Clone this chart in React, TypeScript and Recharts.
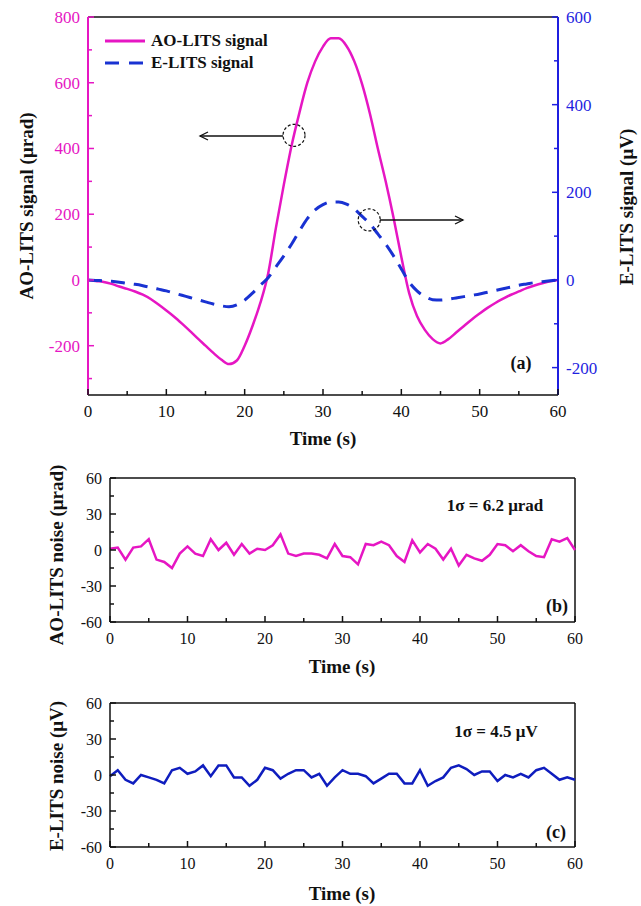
import React from "react";
import { LineChart, Line, XAxis, YAxis, ReferenceLine, ReferenceDot, Legend } from "recharts";

const FONT = '"Liberation Serif", "Times New Roman", serif';
const MAGENTA = "#E616C3";
const DASH_BLUE = "#1932D2";
const AXIS_BLUE = "#1F1FE0";
const NOISE_BLUE = "#0F1DBE";
const INK = "#111";

// time axis (s)
const time = [
  0, 1, 2, 3, 4, 5, 6, 7, 8, 9, 10, 11, 12, 13, 14, 15, 16, 17, 18, 19, 20,
  21, 22, 23, 24, 25, 26, 27, 28, 29, 30, 31, 32, 33, 34, 35, 36, 37, 38, 39, 40,
  41, 42, 43, 44, 45, 46, 47, 48, 49, 50, 51, 52, 53, 54, 55, 56, 57, 58, 59, 60,
];

// (a) AO-LITS signal, µrad
const aoSignal = [
  0, -3, -6, -12, -20, -27, -35, -45, -58, -75, -93, -112, -133, -155, -178, -200,
  -222, -242, -256, -245, -200, -140, -70, 20, 160, 290, 410, 510, 600, 665, 710,
  735, 735, 712, 665, 595, 505, 400, 300, 190, 70, -40, -110, -152, -180, -193,
  -180, -160, -140, -120, -102, -85, -70, -57, -45, -35, -25, -17, -10, -4, 0,
];

// (a) E-LITS signal, µV
const eSignal = [
  0, -1, -2, -3, -5, -8, -10, -13, -17, -21, -25, -30, -35, -40, -45, -50, -55,
  -59, -61, -57, -46, -30, -12, 5, 30, 55, 82, 112, 140, 160, 172, 178, 178, 173,
  162, 145, 128, 105, 82, 55, 25, -5, -25, -38, -45, -46, -44, -41, -38, -35, -32,
  -28, -24, -20, -16, -12, -9, -6, -4, -2, 0,
];

// (b) AO-LITS noise, µrad
const aoNoise = [
  1, 2, -8, 2, 3, 9, -8, -10, -15, -3, 3, -3, -5, 9, 0, 6, -4, 5, -3, 1, 0, 4,
  13, -3, -5, -3, -3, -4, -7, 5, -5, -6, -12, 5, 4, 7, 4, -5, -10, 8, -2, 5, 1,
  -8, 1, -13, -4, -7, -9, -4, 5, 4, -1, 4, -1, -5, -6, 9, 7, 10, 0,
];

// (c) E-LITS noise, µV
const eNoise = [
  -1, 4, -4, -7, 0, -2, -4, -7, 4, 6, 1, 3, 8, -1, 8, 8, -2, -2, -9, -4, 6, 4, -3,
  1, 4, 4, -2, 1, -9, -2, 4, 1, 1, -1, -7, -3, 1, 1, -7, -7, 4, -9, -5, -2, 6, 8,
  5, 0, 3, 3, -5, 0, -2, 1, -2, 4, 6, 1, -4, -2, -4,
];

const timeTicks = [0, 5, 10, 15, 20, 25, 30, 35, 40, 45, 50, 55, 60];
const aoTicks = [-300, -200, -100, 0, 100, 200, 300, 400, 500, 600, 700, 800];
const eTicks = [-200, -100, 0, 100, 200, 300, 400, 500, 600];
const noiseTicks = [-60, -45, -30, -15, 0, 15, 30, 45, 60];

const signalData = time.map((t, i) => ({ t, ao: aoSignal[i], e: eSignal[i] }));
const aoNoiseData = time.map((t, i) => ({ t, v: aoNoise[i] }));
const eNoiseData = time.map((t, i) => ({ t, v: eNoise[i] }));

const legendRows = [
  { key: "ao", name: "AO-LITS signal", color: MAGENTA, dash: undefined },
  { key: "e", name: "E-LITS signal", color: DASH_BLUE, dash: "14 10" },
];

// ticks point into the plot; tickSize is 0 so x/y arrive tickMargin away from the axis
const SideTick = ({ x, y, payload, color, every, side, margin, fontSize }: any) => {
  const major = payload.value % every === 0;
  const dir = side === "left" ? 1 : -1;
  const ax = x + dir * margin;
  return (
    <g>
      <line x1={ax} x2={ax + dir * (major ? 6 : 4)} y1={y} y2={y} stroke={color} strokeWidth={1.5} />
      {major && (
        <text x={x} y={y} dy="0.35em" textAnchor={side === "left" ? "end" : "start"}
          fill={color} fontFamily={FONT} fontSize={fontSize}>
          {payload.value}
        </text>
      )}
    </g>
  );
};

const BottomTick = ({ x, y, payload, margin, fontSize }: any) => {
  const major = payload.value % 10 === 0;
  const ay = y - margin;
  return (
    <g>
      <line x1={x} x2={x} y1={ay} y2={ay - (major ? 6 : 4)} stroke={INK} strokeWidth={1.5} />
      {major && (
        <text x={x} y={ay + 22} textAnchor="middle" fill={INK} fontFamily={FONT} fontSize={fontSize}>
          {payload.value}
        </text>
      )}
    </g>
  );
};

const renderLegend = () => (
  <div style={{ fontFamily: FONT, fontWeight: "bold", fontSize: 17, color: INK }}>
    {legendRows.map((r) => (
      <div key={r.key} style={{ display: "flex", alignItems: "center", height: 22, whiteSpace: "nowrap" }}>
        <svg width={42} height={10} style={{ display: "block" }}>
          <line x1={0} x2={40} y1={5} y2={5} stroke={r.color} strokeWidth={3} strokeDasharray={r.dash} />
        </svg>
        <span style={{ marginLeft: 4, lineHeight: "22px" }}>{r.name}</span>
      </div>
    ))}
  </div>
);

const NoisePanel = ({ data, color, top }: any) => (
  <div style={{ position: "absolute", left: 0, top }}>
    <LineChart width={641} height={220} data={data} margin={{ top: 18, right: 66, bottom: 0, left: 0 }}>
      <XAxis dataKey="t" type="number" domain={[0, 60]} ticks={timeTicks} interval={0} height={58}
        tickSize={0} tickMargin={6} tickLine={false} axisLine={{ stroke: INK, strokeWidth: 1.5 }}
        tick={(p: any) => <BottomTick {...p} margin={6} fontSize={16} />} />
      <YAxis domain={[-60, 60]} ticks={noiseTicks} interval={0} width={110} tickSize={0} tickMargin={8}
        tickLine={false} axisLine={{ stroke: INK, strokeWidth: 1.5 }}
        tick={(p: any) => <SideTick {...p} side="left" margin={8} every={30} color={INK} fontSize={16} />} />
      <ReferenceLine y={60} stroke={INK} strokeWidth={1.5} />
      <ReferenceLine x={60} stroke={INK} strokeWidth={1.5} />
      <Line type="linear" dataKey="v" stroke={color} strokeWidth={2.5} dot={false} isAnimationActive={false} />
    </LineChart>
  </div>
);

export default function App() {
  return (
    <div style={{ position: "absolute", left: 0, top: 0, width: 641, height: 906, background: "#fff", fontFamily: FONT }}>
      <div style={{ position: "absolute", left: 0, top: 0 }}>
        <LineChart width={641} height={450} data={signalData} margin={{ top: 17, right: 0, bottom: 0, left: 0 }}>
          <XAxis dataKey="t" type="number" domain={[0, 60]} ticks={timeTicks} interval={0} height={55}
            tickSize={0} tickMargin={6} tickLine={false} axisLine={{ stroke: INK, strokeWidth: 1.5 }}
            tick={(p: any) => <BottomTick {...p} margin={6} fontSize={17} />} />
          <YAxis yAxisId="ao" domain={[-350, 800]} ticks={aoTicks} interval={0} width={88} tickSize={0}
            tickMargin={8} tickLine={false} axisLine={{ stroke: MAGENTA, strokeWidth: 2 }}
            tick={(p: any) => <SideTick {...p} side="left" margin={8} every={200} color={MAGENTA} fontSize={17} />} />
          <YAxis yAxisId="e" orientation="right" domain={[-262.5, 600]} ticks={eTicks} interval={0} width={83}
            tickSize={0} tickMargin={8} tickLine={false} axisLine={{ stroke: AXIS_BLUE, strokeWidth: 2 }}
            tick={(p: any) => <SideTick {...p} side="right" margin={8} every={200} color={AXIS_BLUE} fontSize={17} />} />
          <ReferenceLine yAxisId="ao" y={800} stroke={INK} strokeWidth={1.5} />
          <Line yAxisId="ao" type="monotone" dataKey="ao" name="AO-LITS signal" stroke={MAGENTA} strokeWidth={2.5}
            dot={false} isAnimationActive={false} />
          <Line yAxisId="e" type="monotone" dataKey="e" name="E-LITS signal" stroke={DASH_BLUE} strokeWidth={3}
            strokeDasharray="14 9" dot={false} isAnimationActive={false} />
          <ReferenceDot yAxisId="ao" x={26.3} y={440} r={11} fill="none" stroke={INK} strokeWidth={1.2} strokeDasharray="3 2" />
          <ReferenceDot yAxisId="e" x={35.9} y={137} r={11} fill="none" stroke={INK} strokeWidth={1.2} strokeDasharray="3 2" />
          <Legend layout="vertical" verticalAlign="middle" align="center" content={renderLegend}
            wrapperStyle={{ top: 30, left: 105, width: 220 }} />
        </LineChart>
      </div>

      <NoisePanel data={aoNoiseData} color={MAGENTA} top={460} />
      <NoisePanel data={eNoiseData} color={NOISE_BLUE} top={685} />

      <svg width={641} height={906} style={{ position: "absolute", left: 0, top: 0, pointerEvents: "none" }}
        fontFamily={FONT} fontWeight="bold" fill={INK}>
        {/* annotation arrows */}
        <g stroke={INK} strokeWidth={1.3} fill="none">
          <line x1={283} y1={136} x2={200} y2={136} />
          <polyline points="208,132 200,136 208,140" />
          <line x1={380} y1={220} x2={463} y2={220} />
          <polyline points="455,216 463,220 455,224" />
        </g>

        <text transform="translate(26,206) rotate(-90)" textAnchor="middle" dy="0.35em" fontSize={19}>AO-LITS signal (μrad)</text>
        <text transform="translate(626,207) rotate(-90)" textAnchor="middle" dy="0.35em" fontSize={19}>E-LITS signal (μV)</text>
        <text x={323} y={445} textAnchor="middle" fontSize={19}>Time (s)</text>
        <text x={521} y={363} textAnchor="middle" dy="0.35em" fontSize={18}>(a)</text>

        <text transform="translate(56,555) rotate(-90)" textAnchor="middle" dy="0.35em" fontSize={19}>AO-LITS noise (μrad)</text>
        <text x={342} y={673} textAnchor="middle" fontSize={19}>Time (s)</text>
        <text x={495} y={505} textAnchor="middle" dy="0.35em" fontSize={17}>1σ = 6.2 μrad</text>
        <text x={557} y={606} textAnchor="middle" dy="0.35em" fontSize={18}>(b)</text>

        <text transform="translate(56,776) rotate(-90)" textAnchor="middle" dy="0.35em" fontSize={19}>E-LITS noise (μV)</text>
        <text x={342} y={900} textAnchor="middle" fontSize={19}>Time (s)</text>
        <text x={496} y={731} textAnchor="middle" dy="0.35em" fontSize={17}>1σ = 4.5 μV</text>
        <text x={556} y={832} textAnchor="middle" dy="0.35em" fontSize={18}>(c)</text>
      </svg>
    </div>
  );
}
